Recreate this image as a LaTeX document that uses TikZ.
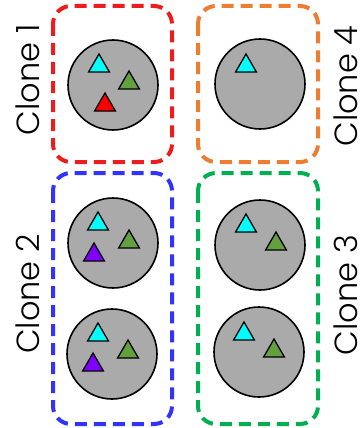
\documentclass[tikz,border=0pt]{standalone}
\usepackage{fontspec}
\newfontfamily\lblfont{Poppins Light}
\usetikzlibrary{shapes.geometric}
\definecolor{cred}{RGB}{238,28,28}
\definecolor{cblue}{RGB}{51,51,255}
\definecolor{corange}{RGB}{237,125,49}
\definecolor{cgreen}{RGB}{0,176,80}
\definecolor{cellgray}{RGB}{170,170,170}
\definecolor{tcyan}{RGB}{0,255,255}
\definecolor{tgreen}{RGB}{98,160,64}
\definecolor{tred}{RGB}{255,0,0}
\definecolor{tpurple}{RGB}{128,0,255}
\tikzset{
  clonebox/.style={line width=4pt, dash pattern=on 12pt off 7pt, rounded corners=18pt},
  cell/.style={circle, draw=black, line width=1.6pt, fill=cellgray, minimum size=90pt, inner sep=0pt},
  tri/.style={regular polygon, regular polygon sides=3, draw=black, line width=1.3pt, minimum size=24pt, inner sep=0pt, fill=#1},
  clonelabel/.style={rotate=90, font=\lblfont\fontsize{32}{32}\selectfont, inner sep=0pt}
}
\begin{document}
\begin{tikzpicture}[x=1pt,y=-1pt]
\useasboundingbox (0,0) rectangle (362,428);
% boxes
\draw[clonebox, draw=cred] (53,6) rectangle (172,162);
\draw[clonebox, draw=cblue] (53,173) rectangle (172,424);
\draw[clonebox, draw=corange] (198,6) rectangle (318,162);
\draw[clonebox, draw=cgreen] (198,173) rectangle (318,424);
% cells
\node[cell] (c1) at (113,85) {};
\node[cell] (c2a) at (113,243) {};
\node[cell] (c2b) at (112,354) {};
\node[cell] (c4) at (260,84) {};
\node[cell] (c3a) at (260,245) {};
\node[cell] (c3b) at (259,352) {};
% clone 1
\node[tri=tcyan] (t1a) at (99,66) {};
\node[tri=tgreen] (t1b) at (129,83) {};
\node[tri=tred] (t1c) at (105,105) {};
% clone 4
\node[tri=tcyan] (t4a) at (246,66) {};
% clone 2
\node[tri=tcyan] (t2a) at (98,224) {};
\node[tri=tpurple] (t2b) at (94,255) {};
\node[tri=tgreen] (t2c) at (129,242) {};
\node[tri=tcyan] (t2d) at (98,335) {};
\node[tri=tpurple] (t2e) at (93,365) {};
\node[tri=tgreen] (t2f) at (128,352) {};
% clone 3
\node[tri=tcyan] (t3a) at (246,226) {};
\node[tri=tgreen] (t3b) at (276,244) {};
\node[tri=tcyan] (t3c) at (244,334) {};
\node[tri=tgreen] (t3d) at (274,351) {};
% labels
\node[clonelabel] (l1) at (28,80) {Clone 1};
\node[clonelabel] (l2) at (28,294) {Clone 2};
\node[clonelabel] (l4) at (346,86) {Clone 4};
\node[clonelabel] (l3) at (346,295) {Clone 3};
\end{tikzpicture}
\end{document}
